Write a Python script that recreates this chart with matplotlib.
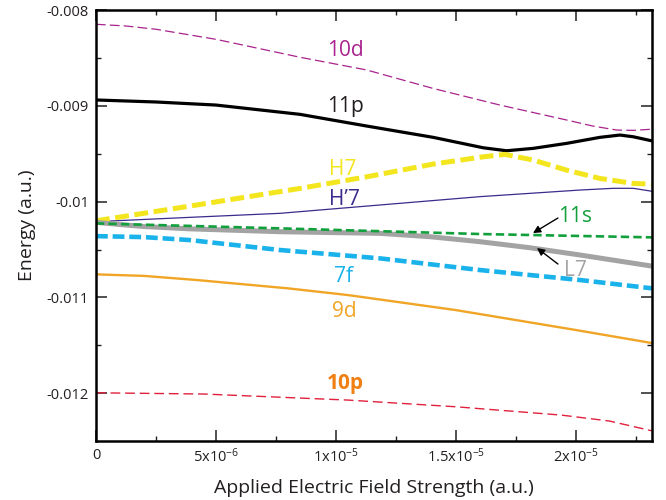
import matplotlib
matplotlib.use("Agg")
import matplotlib.pyplot as plt
from matplotlib.ticker import MultipleLocator, FixedLocator

plt.rcParams['font.family'] = ['Open Sans', 'DejaVu Sans']
plt.rcParams['mathtext.fontset'] = 'custom'
plt.rcParams['mathtext.rm'] = 'Open Sans'
plt.rcParams['mathtext.default'] = 'regular'
plt.rcParams['lines.scale_dashes'] = False

# field strength (a.u.) and energy (a.u.) for each level
f_10d = [0, 1.25e-6, 2.5e-6, 5e-6, 8.5e-6, 1.128e-5, 1.404e-5, 1.683e-5,
         1.961e-5, 2.07e-5, 2.17e-5, 2.24e-5, 2.317e-5]
e_10d = [-0.008149, -0.008167, -0.008201, -0.008306, -0.008493, -0.008626,
         -0.008818, -0.008992, -0.009148, -0.009211, -0.009253, -0.009256,
         -0.009244]

f_11p = [0, 2.5e-6, 5e-6, 8.5e-6, 1.128e-5, 1.405e-5, 1.614e-5, 1.711e-5,
         1.822e-5, 1.961e-5, 2.1e-5, 2.183e-5, 2.239e-5, 2.317e-5]
e_11p = [-0.008939, -0.00896, -0.008992, -0.009089, -0.009211, -0.009329,
         -0.009438, -0.009469, -0.009444, -0.009392, -0.009329, -0.009305,
         -0.009323, -0.009366]

f_h7 = [0, 4e-6, 8.5e-6, 1.128e-5, 1.405e-5, 1.614e-5, 1.704e-5, 1.822e-5,
        1.961e-5, 2.1e-5, 2.239e-5, 2.317e-5]
e_h7 = [-0.0102, -0.010043, -0.009862, -0.009741, -0.009608, -0.009532,
        -0.009507, -0.009566, -0.009671, -0.009758, -0.00981, -0.009817]

f_h7p = [0, 4e-6, 7.67e-6, 1.183e-5, 1.6e-5, 2.017e-5, 2.155e-5, 2.239e-5,
         2.317e-5]
e_h7p = [-0.010209, -0.010163, -0.010122, -0.010035, -0.009948, -0.009879,
         -0.009861, -0.009861, -0.009892]

f_11s = [0, 7.67e-6, 1.6e-5, 2.317e-5]
e_11s = [-0.010227, -0.010279, -0.010338, -0.010373]

f_l7 = [0, 1e-6, 2e-6, 3.9e-6, 7.67e-6, 1.183e-5, 1.392e-5, 1.6e-5, 1.808e-5,
        2.017e-5, 2.317e-5]
e_l7 = [-0.010216, -0.010239, -0.01026, -0.010284, -0.010314, -0.010331,
        -0.010366, -0.010418, -0.010481, -0.010557, -0.010673]

f_7f = [0, 2e-6, 3.9e-6, 7.67e-6, 1.183e-5, 1.6e-5, 2.017e-5, 2.317e-5]
e_7f = [-0.01036, -0.01037, -0.010401, -0.010505, -0.010592, -0.010714,
        -0.010818, -0.010905]

f_9d = [0, 2e-6, 4.2e-6, 8e-6, 1.05e-5, 1.5e-5, 2e-5, 2.317e-5]
e_9d = [-0.010759, -0.010775, -0.010818, -0.010905, -0.010975, -0.011132,
        -0.01134, -0.011476]

f_10p = [0, 4.5e-6, 1.05e-5, 1.5e-5, 1.94e-5, 2.14e-5, 2.317e-5]
e_10p = [-0.011995, -0.012008, -0.012071, -0.012141, -0.012228, -0.01229,
         -0.012392]

x_ticks = [5e-6, 1e-5, 1.5e-5, 2e-5]
x_ticklabels = ['5x10$^{-6}$', '1x10$^{-5}$', '1.5x10$^{-5}$', '2x10$^{-5}$']
y_ticks = [-0.012, -0.011, -0.01, -0.009, -0.008]
y_ticklabels = ['-0.012', '-0.011', '-0.01', '-0.009', '-0.008']

fig = plt.figure(figsize=(6.66, 5.0), dpi=100)
ax = fig.add_axes([0.1441, 0.1186, 0.8349, 0.8614])

ax.plot(f_10d, e_10d, color='#a8238e', lw=0.9, dashes=(7, 3))
ax.plot(f_11p, e_11p, color='black', lw=2.3, solid_joinstyle='round')
ax.plot(f_h7p, e_h7p, color='#3c2a8c', lw=0.9)
ax.plot(f_h7, e_h7, color='#f3e61e', lw=3.6, dashes=(10, 4))
ax.plot(f_l7, e_l7, color='#a3a3a3', lw=3.6, solid_joinstyle='round')
ax.plot(f_11s, e_11s, color='#12a03c', lw=1.9, dashes=(6, 3))
ax.plot(f_7f, e_7f, color='#1ab2ea', lw=3.3, dashes=(8.5, 3.5))
ax.plot(f_9d, e_9d, color='#f0a526', lw=1.7)
ax.plot(f_10p, e_10p, color='#e0203c', lw=1.0, dashes=(7, 3.5))

lbl = dict(fontsize=15, ha='center', va='baseline')
ax.text(1.0375e-5, -0.008477, '10d', color='#a8238e', **lbl)
ax.text(1.0375e-5, -0.009062, '11p', color='#231f20', **lbl)
ax.text(1.03e-5, -0.009722, 'H7', color='#f3e61e', **lbl)
ax.text(1.034e-5, -0.010036, 'H\u20197', color='#3c2a8c', **lbl)
ax.text(1.03e-5, -0.010836, '7f', color='#1ab2ea', **lbl)
ax.text(1.034e-5, -0.011202, '9d', color='#f0a526', **lbl)
ax.text(1.04e-5, -0.011956, '10p', color='#f07f14', fontweight='bold', **lbl)
ax.text(1.996e-5, -0.010210, '11s', color='#12a03c', **lbl)
ax.text(1.996e-5, -0.010775, 'L7', color='#a3a3a3', **lbl)

arrow = dict(arrowstyle='-|>', color='black', lw=1.0, shrinkA=0, shrinkB=0,
             mutation_scale=11)
ax.annotate('', xy=(1.821e-5, -0.010328), xytext=(1.925e-5, -0.010171),
            arrowprops=arrow)
ax.annotate('', xy=(1.8375e-5, -0.010484), xytext=(1.925e-5, -0.010651),
            arrowprops=arrow)

ax.set_xlim(0, 2.317e-5)
ax.set_ylim(-0.012495, -0.008)

ax.xaxis.set_major_locator(FixedLocator([0] + x_ticks))
ax.set_xticklabels(['0'] + x_ticklabels)
ax.xaxis.set_minor_locator(MultipleLocator(2.5e-6))
ax.yaxis.set_major_locator(FixedLocator(y_ticks))
ax.set_yticklabels(y_ticklabels)
ax.yaxis.set_minor_locator(MultipleLocator(0.0005))

ax.tick_params(which='both', direction='in', top=True, right=True,
               labelsize=10.5, colors='#231f20', pad=5)
ax.tick_params(which='major', length=8, width=1.1)
ax.tick_params(which='minor', length=3.5, width=1.0)
for side in ax.spines.values():
    side.set_linewidth(1.8)

ax.set_xlabel('Applied Electric Field Strength (a.u.)', fontsize=14,
              color='#231f20', labelpad=9)
ax.set_ylabel('Energy (a.u.)', fontsize=14, color='#231f20', labelpad=8)

fig.savefig('out.png', dpi=100)
